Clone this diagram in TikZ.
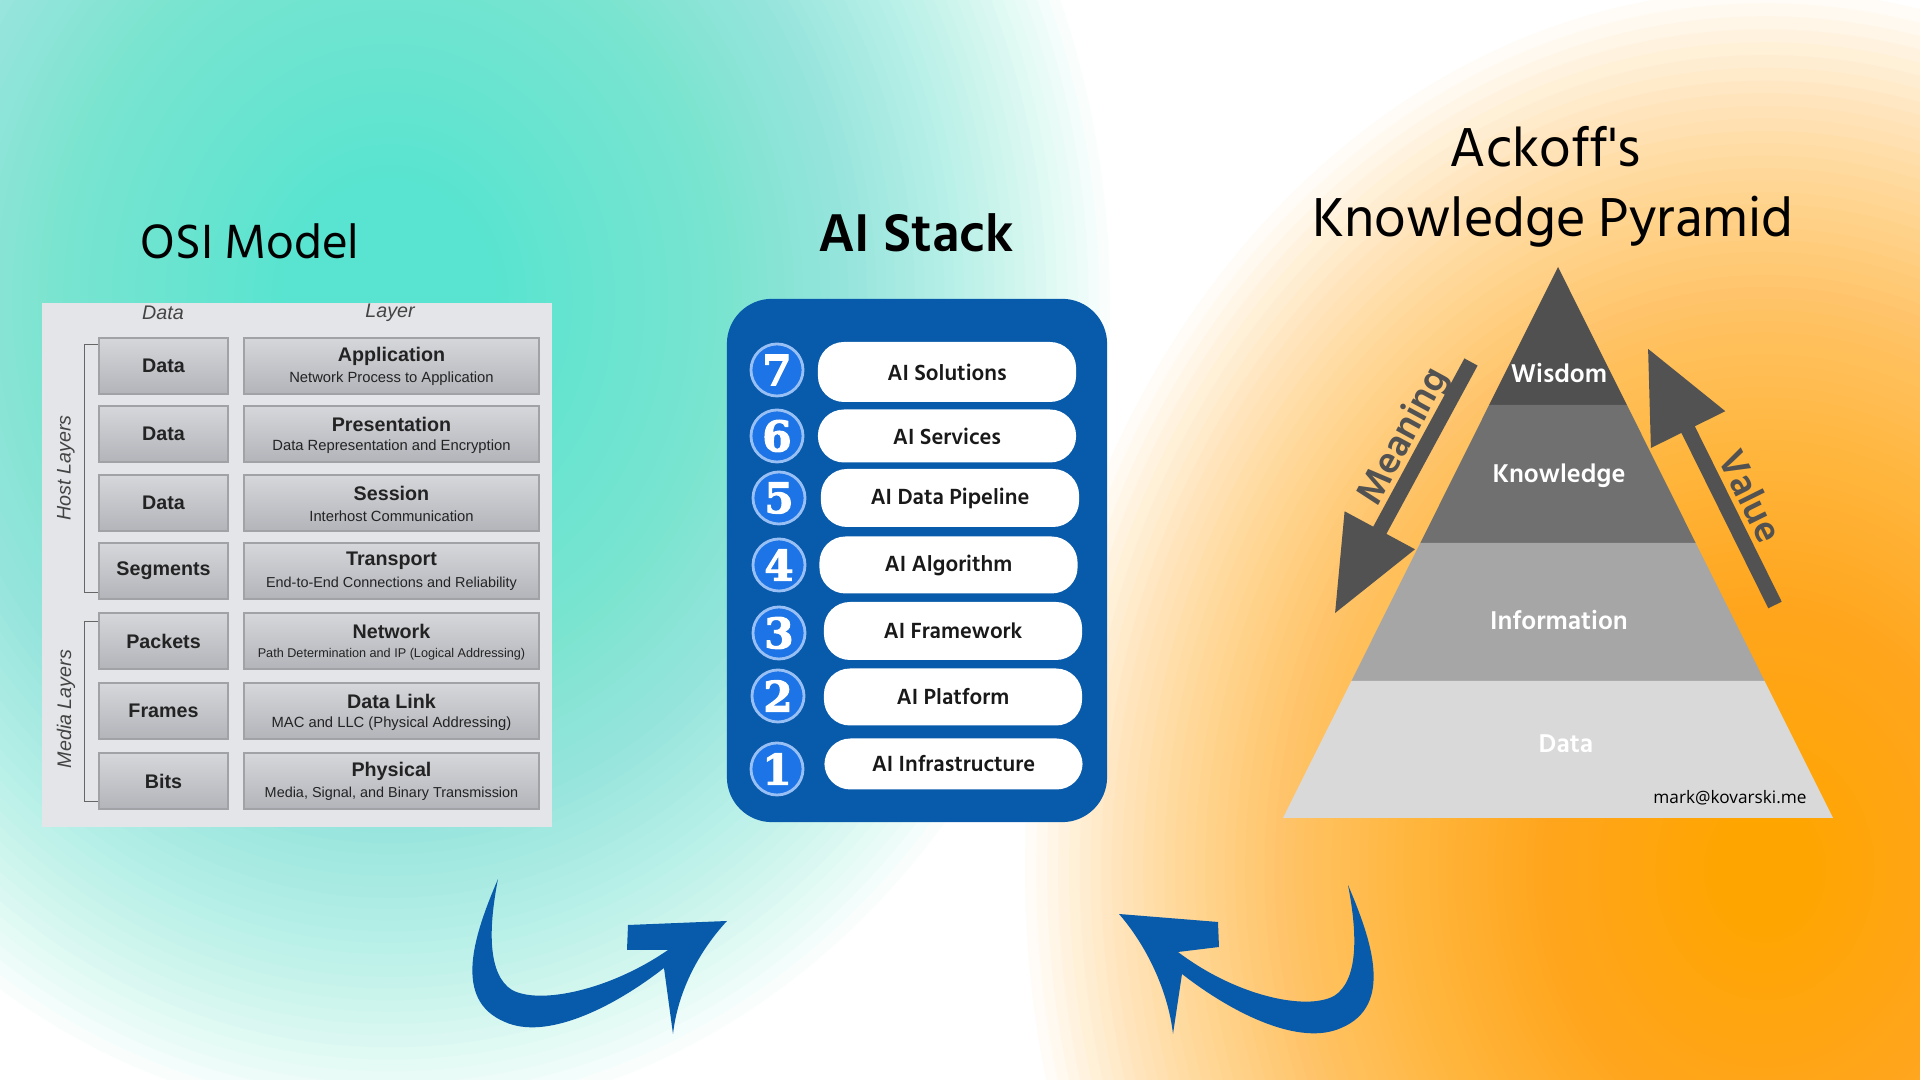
\documentclass[tikz,border=0pt]{standalone}
\usepackage{fontspec}
\setmainfont{Open Sans}
\newfontfamily\hindfont{Hind Siliguri}
\newfontfamily\arialfont{Liberation Sans}
\newfontfamily\numfont[FakeBold=2.5]{DejaVu Serif Bold}

\definecolor{stackblue}{RGB}{8,90,170}
\definecolor{numblue}{RGB}{28,116,230}
\definecolor{tealglow}{RGB}{88,228,208}
\definecolor{orangeglow}{RGB}{255,165,0}
\definecolor{osipanel}{RGB}{228,229,232}
\definecolor{osilight}{RGB}{214,215,219}
\definecolor{osidark}{RGB}{178,180,185}
\definecolor{osiedge}{RGB}{160,162,166}
\definecolor{ositext}{RGB}{35,35,35}
\definecolor{arrowgray}{RGB}{82,82,82}
\definecolor{wisdomgray}{RGB}{80,80,80}
\definecolor{knowgray}{RGB}{112,112,112}
\definecolor{infogray}{RGB}{166,166,166}
\definecolor{datagray}{RGB}{217,217,217}

\tikzset{
  headline/.style={font=\hindfont\fontsize{14}{16}\selectfont, text=black, inner sep=0},
  osidatabox/.style={draw=osiedge, top color=osilight, bottom color=osidark, minimum width=1.29cm, minimum height=0.56cm, inner sep=0, font=\arialfont\bfseries\fontsize{5.6}{6}\selectfont, text=ositext},
  osilayerbox/.style={draw=osiedge, top color=osilight, bottom color=osidark, minimum width=2.95cm, minimum height=0.56cm, inner sep=0},
  osihead/.style={inner sep=0, font=\arialfont\bfseries\fontsize{5.6}{6}\selectfont, text=ositext},
  osisub/.style={inner sep=0, text=ositext},
  osiside/.style={inner sep=0, font=\arialfont\itshape\fontsize{5.6}{6}\selectfont, text=ositext!85!white},
  bracket/.style={draw=gray!80!black, line width=0.25pt},
  pill/.style={fill=white, rounded corners=0.26cm, minimum width=2.58cm, inner sep=0, font=\hindfont\bfseries\fontsize{6.4}{7}\selectfont, text=black!90},
  numdisc/.style={circle, fill=numblue, draw=white!55!numblue, line width=0.8pt, minimum size=0.52cm, inner sep=0, text=white, font=\numfont\fontsize{12}{12}\selectfont},
  layerlbl/.style={inner sep=0, text=white, font=\hindfont\bfseries\fontsize{7.5}{8}\selectfont},
  arrowlbl/.style={inner sep=0, text=arrowgray, font=\hindfont\bfseries\fontsize{11}{12}\selectfont}
}

\begin{document}
\begin{tikzpicture}[x=0.01cm, y=-0.01cm]
  \useasboundingbox (0,0) rectangle (1920,1080);

  % Background glows
  \fill[white] (0,0) rectangle (1920,1080);
  \foreach \k in {1,...,100}
    \fill[tealglow, opacity=0.03] (390,300) ellipse ({720*(\k/100)^1.5} and {820*(\k/100)^1.5});
  \foreach \k in {1,...,100}
    \fill[orangeglow, opacity=0.032] (1765,870) ellipse ({740*(\k/100)^1.5} and {880*(\k/100)^1.5});

  % Titles
  \node[headline] (osititle) at (250,241) {OSI Model};
  \node[headline, font=\hindfont\bfseries\fontsize{15.5}{17}\selectfont] (stacktitle) at (916,233) {AI Stack};
  \node[headline, font=\hindfont\fontsize{16}{19}\selectfont] (ackoff) at (1545,147) {Ackoff's};
  \node[headline, font=\hindfont\fontsize{16}{19}\selectfont] (pyrtitle) at (1553,222) {Knowledge Pyramid};

  % OSI model panel
  \node[fill=osipanel, minimum width=5.1cm, minimum height=5.24cm, inner sep=0] (osi) at (297,565) {};
  \node[osiside] (datahead) at (163,313) {Data};
  \node[osiside] (layerhead) at (390,313) {Layer};
  \draw[bracket] (100,344) -- (84,344) -- (84,592) -- (100,592);
  \draw[bracket] (100,621) -- (84,621) -- (84,801) -- (100,801);
  \node[osiside, rotate=90] (host) at (66,468) {Host Layers};
  \node[osiside, rotate=90] (media) at (66,709) {Media Layers};
  \foreach \i/\yy/\dat/\lay/\sub/\fs in {
      7/366/Data/Application/Network Process to Application/4.2,
      6/434/Data/Presentation/Data Representation and Encryption/4.2,
      5/503/Data/Session/Interhost Communication/4.2,
      4/571/Segments/Transport/End-to-End Connections and Reliability/4.1,
      3/641/Packets/Network/Path Determination and IP (Logical Addressing)/3.6,
      2/711/Frames/Data Link/MAC and LLC (Physical Addressing)/4.2,
      1/781/Bits/Physical/{Media, Signal, and Binary Transmission}/4.1}
  {
    \node[osidatabox] (d\i) at (163.5,\yy) {\dat};
    \node[osilayerbox] (l\i) at (391.5,\yy) {};
    \node[osihead] (t\i) at ([yshift=0.1cm]l\i.center) {\lay};
    \node[osisub, font=\arialfont\fontsize{\fs}{\fs}\selectfont] (s\i) at ([yshift=-0.13cm]l\i.center) {\sub};
  }

  % AI stack panel
  \node[fill=stackblue, rounded corners=0.45cm, minimum width=3.8cm, minimum height=5.23cm, inner sep=0] (stack) at (917,560.5) {};
  \foreach \n/\lbl/\cx/\cy/\px/\py/\ph in {
      7/AI Solutions/777/370/947/372/60,
      6/AI Services/777/436/947/436/53,
      5/AI Data Pipeline/779/498/950/498/58,
      4/AI Algorithm/779/565/948.5/565/57,
      3/AI Framework/779/633/953/631/58,
      2/AI Platform/778/696/953/697/57,
      1/AI Infrastructure/777/769/953.5/764/51}
  {
    \node[pill, minimum height=\ph*0.01cm] (pill\n) at (\px,\py) {\lbl};
    \node[numdisc] (num\n) at (\cx,\cy) {\n};
  }

  % Knowledge pyramid
  \coordinate (apex) at (1558,267);
  \fill[wisdomgray] (apex) -- (1626.9,405) -- (1489.1,405) -- cycle;
  \fill[knowgray] (1489.1,405) -- (1626.9,405) -- (1695.7,543) -- (1420.3,543) -- cycle;
  \fill[infogray] (1420.3,543) -- (1695.7,543) -- (1764.6,681) -- (1351.4,681) -- cycle;
  \fill[datagray] (1351.4,681) -- (1764.6,681) -- (1833,818) -- (1283,818) -- cycle;
  \node[layerlbl] (wisdom) at (1559,373) {Wisdom};
  \node[layerlbl] (knowledge) at (1559,476) {Knowledge};
  \node[layerlbl] (information) at (1559,620) {Information};
  \node[layerlbl] (data) at (1566,744) {Data};
  \node[inner sep=0, font=\fontsize{4.9}{5}\selectfont] (mark) at (1730,798) {mark@kovarski.me};

  % Meaning and value arrows
  \fill[arrowgray] (1464.4,358.4) -- (1373.2,526.7) -- (1344.6,511.3) -- (1335.1,613) -- (1415,549.3) -- (1386.4,533.9) -- (1477.6,365.6) -- cycle;
  \node[arrowlbl, rotate=61.5] (meaning) at (1404,437) {Meaning};
  \fill[arrowgray] (1768.3,608.3) -- (1681.4,432.9) -- (1650.9,448) -- (1648.1,348.9) -- (1725.3,411.2) -- (1694.8,426.3) -- (1781.7,601.7) -- cycle;
  \node[arrowlbl, rotate=-63.6] (value) at (1751,496) {Value};

  % Curly blue arrows
  \fill[stackblue] (498,879) .. controls (474,935) and (452,1000) .. (505,1022)
    .. controls (545,1040) and (610,1010) .. (664,968) -- (673,1034)
    .. controls (678,990) and (700,950) .. (727,921) -- (628,925) -- (627,950) -- (668,950)
    .. controls (610,990) and (540,1005) .. (512,990)
    .. controls (488,975) and (488,930) .. (498,879) -- cycle;
  \fill[stackblue] (1348,885) .. controls (1372,941) and (1394,1006) .. (1341,1028)
    .. controls (1301,1046) and (1236,1016) .. (1182,974) -- (1173,1034)
    .. controls (1168,990) and (1146,945) .. (1119,914) -- (1218,922) -- (1219,947) -- (1178,952)
    .. controls (1236,996) and (1306,1011) .. (1334,996)
    .. controls (1358,981) and (1358,936) .. (1348,885) -- cycle;
\end{tikzpicture}
\end{document}
